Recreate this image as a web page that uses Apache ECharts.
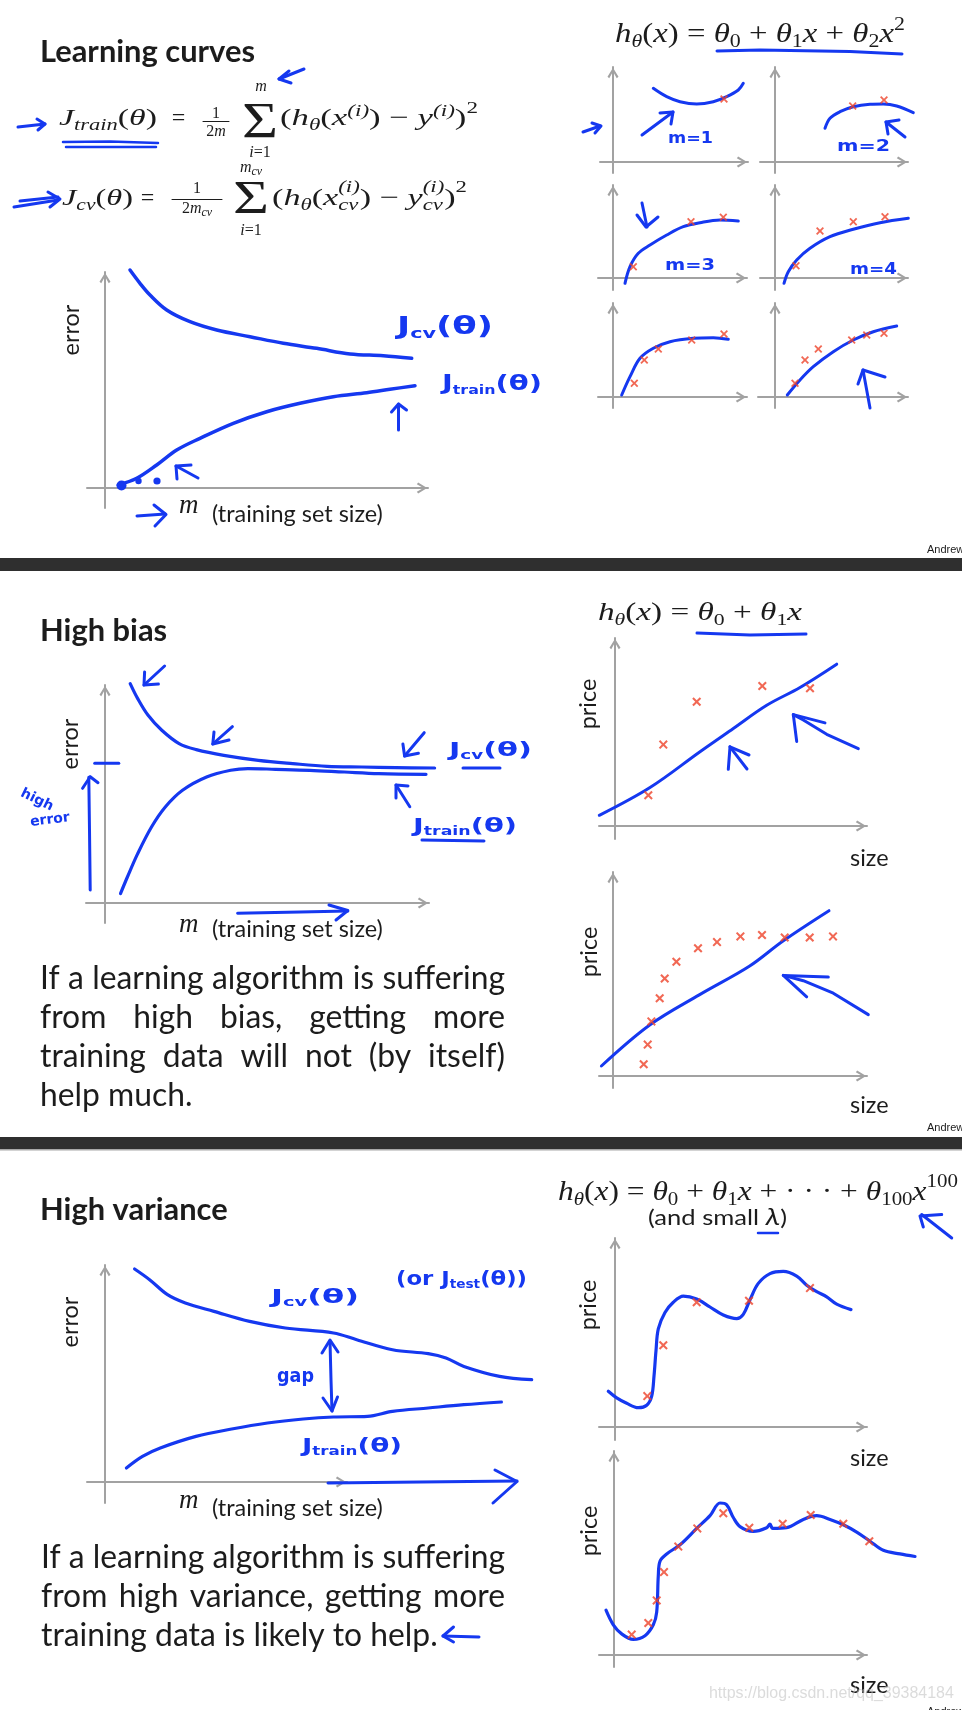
<!DOCTYPE html>
<html>
<head>
<meta charset="utf-8">
<title>Learning curves</title>
<script src="https://cdn.jsdelivr.net/npm/echarts@6/dist/echarts.min.js"></script>
<style>
html,body{margin:0;padding:0;background:#fff;}
#chart{width:962px;height:1710px;}
</style>
</head>
<body>
<div id="chart"></div>
<script>
// ================= DATA (x = m / size, y = error / price) =================
// Slide 1: learning curves
const lcJcv    = [[25,218],[35,204.7],[45,193],[61.7,178],[85,166.3],[111.7,158],[145,151.3],[178.3,144.7],[211.7,139.7],[245,134],[278.3,132.3],[306.7,129.7]];
const lcJtrain = [[13.3,3],[31.7,9.7],[51.7,23],[71.7,38],[95,49.7],[128.3,64.7],[161.7,76.3],[195,84.7],[228.3,91.3],[261.7,95.3],[285,98.7],[310,102.3]];
// quadratic fits for m = 1 .. 6
const fitM1 = [[40.3,73.7],[53.7,65.3],[67,60.3],[83.7,58],[100.3,60.3],[113.7,65.3],[125.3,72],[130.3,78.7]];
const xM1   = [[111,63]];
const fitM2 = [[50,33.7],[55,43.7],[65,50.3],[78.3,55.3],[95,57.7],[108.3,58],[121.7,56],[138.3,49.3]];
const xM2   = [[77.7,56],[109,62]];
const fitM3 = [[12,-5.3],[17,11.3],[25.3,24.7],[37,33],[53.7,43],[70.3,51.3],[87,55.3],[107,58],[125.3,57]];
const xM3   = [[20.3,11.3],[78,56.3],[110.3,60.7]];
const fitM4 = [[9,-5.3],[13.3,6.3],[21.7,18],[35,29.7],[55,41.3],[78.3,48.7],[105,55.3],[133.3,59.7]];
const xM4   = [[21,12.3],[45,47],[78.3,56.3],[110,61.3]];
const fitM5 = [[8.7,2],[17,20.3],[27,38.7],[40.3,48.7],[57,55.3],[80.3,58.7],[100.3,59.3],[115.3,57.7]];
const xM5   = [[21.3,13.7],[31.3,37],[45.3,48],[78.7,57],[111,63]];
const fitM6 = [[12.3,2],[25,17],[38.3,30.3],[58.3,45.3],[78.3,57],[98.3,65.3],[121.7,71]];
const xM6   = [[20,13.7],[30,37],[43.3,48],[76.7,57],[91.7,62],[109,63.7]];
// Slide 2: high bias
const hbJcv    = [[25.2,219.4],[32.7,204.4],[43.1,187.7],[56.8,172.7],[74.1,159.4],[91.3,153.4],[118.8,147.7],[153.3,142.7],[187.7,139.4],[222.1,136.7],[256.6,136],[291,135.4],[329.6,135]];
const hbJtrain = [[15.5,9.4],[22.4,26],[32.7,49.4],[46.5,76],[60.3,96],[77.5,112.7],[101.6,126],[125.7,132.7],[142.9,134.4],[170.5,133.7],[204.9,132.7],[239.4,131],[273.8,129.4],[321,128.7]];
const linFitA = [[-15.7,10.7],[35,38.5],[85,74.3],[118.3,97.5],[151.7,120.7],[185,138.5],[221.7,161.8]];
const linXA   = [[33.3,30.7],[48.3,81.4],[81.7,124.3],[147.3,140],[195,137.8]];
const linFitB = [[-11.6,10],[36.7,51],[86.7,81.4],[136.7,110],[170,135],[216,165.3]];
const linXB   = [[30.7,11.8],[34.7,31.4],[38.4,54.6],[46.7,77.8],[51.7,97.5],[63.4,114.3],[85,127.8],[104,133.9],[127.4,139.6],[149,141],[171.7,138.5],[196.7,138.5],[220,139.6]];
// Slide 3: high variance
const hvJcv    = [[29.6,213],[44.6,202.3],[62.5,187.3],[80.3,179],[108.9,170.6],[144.6,160.6],[180.3,154],[228.5,149],[251.7,142.3],[287.5,132.3],[323.2,128.3],[341,124],[358.9,115.6],[394.6,105.6],[426.7,102.3]];
const hvJtrain = [[21.4,14],[37.5,25.6],[55.3,34],[91,45.6],[126.7,53],[162.5,59],[198.2,63],[228.5,65],[262.5,65.6],[287.5,70.6],[323.2,74],[358.9,77.3],[396.4,80]];
const polyFitA = [[-6.7,35.7],[1.7,29.1],[11.7,23.7],[23.3,19.3],[31.7,21.8],[36.7,30.9],[39,50.9],[41,76.4],[43.3,98.2],[50,114.5],[58.3,124.7],[68.3,130.9],[81.7,128],[95,120],[108.3,112],[121.7,108.4],[128.3,112.7],[135,127.3],[143.3,143.6],[155,153.4],[168.3,155.6],[181.7,150.9],[191.7,141.8],[201.7,135.3],[211.7,130.2],[221.7,122.9],[236,117.4]];
const polyXA   = [[32.3,30.9],[48.3,81.8],[81.7,124.7],[134,126.2],[195,138.9]];
const polyFitB = [[-8,44.8],[-0.7,30.2],[7.7,21.1],[19.3,15.6],[31,19.3],[39.3,30.2],[42.7,42.9],[44.3,79.3],[46,93.8],[52.7,101.1],[66,110.2],[82.7,126.6],[96,139.3],[106,152],[112.7,150.2],[119.3,137.5],[126,128.4],[139.3,123.6],[152.7,127.3],[156,130.9],[158.7,126.6],[172.7,127.3],[189.3,135.6],[202.7,139.3],[216,135.6],[229.3,130.2],[242.7,122.9],[256,113.8],[269.3,104.7],[286,101.1],[301,98.5]];
const polyXB   = [[17.7,20.4],[34.3,32],[42.7,54.6],[50,82.9],[64.3,108.4],[83.3,126.6],[109.3,141.8],[135.3,127.3],[168.7,131.3],[196.7,140],[229.3,131.3],[255.3,113.8]];

// ================= TEXT =================
const titles = ['Learning curves', 'High bias', 'High variance'];
const yName = 'error', yNamePrice = 'price', xNamePrice = 'size';
const xNameM = 'm', xNameRest = '(training set size)';
const biasText = ['If a learning algorithm is suffering', 'from high bias, getting more', 'training data will not (by itself)', 'help much.'];
const varText  = ['If a learning algorithm is suffering', 'from high variance, getting more', 'training data is likely to help.'];
const footer = 'Andrew Ng';
const watermark = 'https://blog.csdn.net/qq_39384184';

// ================= STYLE / LAYOUT =================
const BLUE = '#1538f0', RED = '#ee4229', AXIS = '#a2a2a2', INK = '#1c1c1c';
const SANS = 'Lato, "Open Sans", "Liberation Sans", sans-serif';
const SERIF = '"Liberation Serif", "DejaVu Serif", serif';
const HAND = '"DejaVu Sans", "Liberation Sans", sans-serif';
const ARROW = 'path://M5,0 L10,8.2 L8.4,9.4 L5,3.4 L1.6,9.4 L0,8.2 Z';
const XMARK = 'path://M1.6,0 L5,3.4 L8.4,0 L10,1.6 L6.6,5 L10,8.4 L8.4,10 L5,6.6 L1.6,10 L0,8.4 L3.4,5 L0,1.6 Z';

// g = [left, top, right, bottom] of the visible axis box, o = pixel of the origin
const CHARTS = [
  {g:[87,272,428,508],   o:[105,488],  lines:[lcJcv, lcJtrain], pts:[], lw:3.5, ms:9},
  {g:[600,67,748,173],   o:[613,162],  lines:[fitM1], pts:[xM1], lw:3, ms:8},
  {g:[760,67,908,173],   o:[775,162],  lines:[fitM2], pts:[xM2], lw:3, ms:8},
  {g:[598,185,747,290],  o:[613,278],  lines:[fitM3], pts:[xM3], lw:3, ms:8},
  {g:[760,185,908,290],  o:[775,278],  lines:[fitM4], pts:[xM4], lw:3, ms:8},
  {g:[598,303,747,408],  o:[613,397],  lines:[fitM5], pts:[xM5], lw:3, ms:8},
  {g:[758,303,908,408],  o:[775,397],  lines:[fitM6], pts:[xM6], lw:3, ms:8},
  {g:[86,685,429,923],   o:[105,903],  lines:[hbJcv, hbJtrain], pts:[], lw:3.2, ms:9},
  {g:[599,638,867,839],  o:[615,826],  lines:[linFitA], pts:[linXA], lw:3, ms:9},
  {g:[599,872,867,1088], o:[613,1076], lines:[linFitB], pts:[linXB], lw:3, ms:9},
  {g:[87,1265,347,1503], o:[105,1482], lines:[hvJcv, hvJtrain], pts:[], lw:3.2, ms:9},
  {g:[599,1238,867,1440],o:[615,1427], lines:[polyFitA], pts:[polyXA], lw:3.2, ms:9},
  {g:[599,1451,867,1667],o:[614,1655], lines:[polyFitB], pts:[polyXB], lw:3.2, ms:9}
];

// ================= HELPERS =================
const mctx = document.createElement('canvas').getContext('2d');
function fnt(s, fam, it, wt) { return (it ? 'italic ' : '') + (wt ? wt + ' ' : '') + s + 'px ' + fam; }
function tw(str, font) { mctx.font = font; return mctx.measureText(str).width; }
function bOff(font, size) {
  mctx.font = font;
  mctx.textBaseline = 'alphabetic';
  const a = mctx.measureText('Hg').fontBoundingBoxAscent;
  mctx.textBaseline = 'middle';
  const b = mctx.measureText('Hg').fontBoundingBoxAscent;
  mctx.textBaseline = 'alphabetic';
  if (typeof a === 'number' && typeof b === 'number' && isFinite(a - b)) return a - b;
  return 0.32 * size;
}
const G = [];
function txt(x, base, str, font, size, color, opt) {
  opt = opt || {};
  const el = {type:'text', x:x, y:base - bOff(font, size), silent:true, z:20,
    style:{text:str, font:font, fill:color, align:opt.align || 'left', verticalAlign:'middle',
           textAlign:opt.align || 'left', textVerticalAlign:'middle'}};
  if (opt.sx) el.scaleX = opt.sx;
  if (opt.rot) el.rotation = opt.rot;
  G.push(el);
}
function ctxt(cx, cy, str, font, color, rot) {
  G.push({type:'text', x:cx, y:cy, rotation:rot || 0, silent:true, z:20,
    style:{text:str, font:font, fill:color, align:'center', verticalAlign:'middle', textAlign:'center', textVerticalAlign:'middle'}});
}
// token: [text, size, italic, dy]  or {st:[token, token]} (stacked sub/superscript)
function run(x, base, toks, o) {
  o = o || {};
  const fam = o.fam || SERIF, color = o.color || INK, wt = o.wt;
  const mk = tk => { const f = fnt(tk[1], fam, tk[2], wt); return {t:tk[0], s:tk[1], f:f, dy:tk[3] || 0, w:tw(tk[0], f)}; };
  const items = toks.map(tk => {
    if (tk.st) { const sub = tk.st.map(mk); return {st:sub, w:Math.max.apply(null, sub.map(s => s.w))}; }
    return mk(tk);
  });
  const W = items.reduce((a, b) => a + b.w, 0);
  const k = o.w ? o.w / W : 1;
  let cx = o.align === 'center' ? x - W * k / 2 : x;
  items.forEach(it => {
    const list = it.st || [it];
    list.forEach(p => txt(cx, base + p.dy, p.t, p.f, p.s, color, {sx:k}));
    cx += it.w * k;
  });
}
function hand(x, base, toks, w) { run(x, base, toks, {fam:HAND, color:BLUE, w:w, wt:'bold'}); }
function pl(points, w, color) {
  G.push({type:'polyline', silent:true, z:19, shape:{points:points},
    style:{stroke:color || BLUE, lineWidth:w || 3, fill:null, lineCap:'round', lineJoin:'round'}});
}
function dot(cx, cy, r) { G.push({type:'circle', silent:true, z:19, shape:{cx:cx, cy:cy, r:r}, style:{fill:BLUE}}); }
function para(lines, justify, x0, x1, bases, font, size) {
  lines.forEach((ln, i) => {
    const words = ln.split(' ');
    const ws = words.map(w => tw(w, font));
    const tot = ws.reduce((a, b) => a + b, 0);
    const gap = (justify[i] && words.length > 1) ? (x1 - x0 - tot) / (words.length - 1) : tw(' ', font);
    let x = x0;
    words.forEach((w, k) => { txt(x, bases[i], w, font, size, INK); x += ws[k] + gap; });
  });
}

// ================= BACKGROUND BARS =================
G.push({type:'rect', silent:true, z:1, shape:{x:0, y:558, width:962, height:13}, style:{fill:'#2f2f2f'}});
G.push({type:'rect', silent:true, z:1, shape:{x:0, y:1137, width:962, height:12}, style:{fill:'#2f2f2f'}});
G.push({type:'rect', silent:true, z:1, shape:{x:0, y:1149, width:962, height:1.5}, style:{fill:'#a8a8a8'}});

// ================= SLIDE TEXT =================
const tSize = 26 * 215 / tw(titles[0], fnt(26, SANS, false, 'bold'));
const tFont = fnt(tSize, SANS, false, 'bold');
txt(40, 62, titles[0], tFont, tSize, INK);
txt(40, 641, titles[1], tFont, tSize, INK);
txt(40, 1220, titles[2], tFont, tSize, INK);

const lSize = 20 * 171 / tw(xNameRest, fnt(20, SANS));
const lFont = fnt(lSize, SANS);
const mFont = fnt(27, SERIF, true);
[[513, 522], [932, 937], [1508, 1516]].forEach(b => {
  txt(179, b[0], xNameM, mFont, 27, INK);
  txt(212, b[1], xNameRest, lFont, lSize, INK);
});
[[71.5, 330], [70.5, 744], [70.5, 1322]].forEach(c => ctxt(c[0], c[1], yName, lFont, INK, Math.PI / 2));
[[588.5, 704], [589.5, 952], [588.5, 1305], [589.5, 1531]].forEach(c => ctxt(c[0], c[1], yNamePrice, lFont, INK, Math.PI / 2));
[865.5, 1113, 1466, 1692.5].forEach(b => txt(850, b, xNamePrice, lFont, lSize, INK));

const pSize = 30 * 464 / tw(biasText[0], fnt(30, SANS));
const pFont = fnt(pSize, SANS);
para(biasText, [true, true, true, false], 40, 505, [989, 1028, 1067, 1106], pFont, pSize);
para(varText, [true, true, false], 41, 505, [1568, 1607, 1646], pFont, pSize);

const fFont = fnt(11, '"Liberation Sans", Arial, sans-serif');
[553, 1131, 1715].forEach(b => txt(927, b, footer, fFont, 11, INK));
const wmSize = 20 * 245 / tw(watermark, fnt(20, '"Liberation Sans", Arial, sans-serif'));
txt(709, 1698, watermark, fnt(wmSize, '"Liberation Sans", Arial, sans-serif'), wmSize, 'rgba(190,190,190,0.55)');

// ================= FORMULAS =================
const I = true;
// J_train
run(59, 125, [['J',24,I],['train',16,I,5],['(',24],['θ',24,I],[')',24]], {w:98});
run(178.5, 125, [['=',24]], {align:'center'});
run(216, 118, [['1',16]], {align:'center'});
pl([[203,121.5],[229,121.5]], 1, INK);
run(216, 136, [['2',16],['m',16,I]], {align:'center'});
run(260, 137, [['Σ',51]], {align:'center', w:36});
run(261, 91, [['m',16,I]], {align:'center'});
run(260, 157, [['i',16,I],['=',16],['1',16]], {align:'center'});
run(280, 125, [['(',24],['h',24,I],['θ',16,I,5],['(',24],['x',24,I],['(i)',16,I,-9],[')',24],[' − ',24],['y',24,I],['(i)',16,I,-9],[')',24],['2',16,false,-12]], {w:198});
// J_cv
run(62, 205, [['J',24,I],['cv',16,I,5],['(',24],['θ',24,I],[')',24]], {w:71});
run(147.5, 205, [['=',24]], {align:'center'});
run(197, 193, [['1',16]], {align:'center'});
pl([[172,199.5],[222,199.5]], 1, INK);
run(197, 213, [['2',16],['m',16,I],['cv',12,I,3]], {align:'center'});
run(251, 213, [['Σ',47]], {align:'center', w:36});
run(251, 172, [['m',16,I],['cv',12,I,3]], {align:'center'});
run(251, 235, [['i',16,I],['=',16],['1',16]], {align:'center'});
run(272, 205, [['(',24],['h',24,I],['θ',16,I,5],['(',24],['x',24,I],{st:[['(i)',16,I,-13],['cv',16,I,5]]},[')',24],[' − ',24],['y',24,I],{st:[['(i)',16,I,-13],['cv',16,I,5]]},[')',24],['2',16,false,-13]], {w:195});
// hypotheses
run(615, 42, [['h',27,I],['θ',18,I,5],['(',27],['x',27,I],[')',27],[' = ',27],['θ',27,I],['0',18,false,5],[' + ',27],['θ',27,I],['1',18,false,5],['x',27,I],[' + ',27],['θ',27,I],['2',18,false,5],['x',27,I],['2',18,false,-12]], {w:290});
run(598, 620, [['h',26,I],['θ',17,I,5],['(',26],['x',26,I],[')',26],[' = ',26],['θ',26,I],['0',17,false,5],[' + ',26],['θ',26,I],['1',17,false,5],['x',26,I]], {w:204});
run(558, 1200, [['h',27,I],['θ',18,I,5],['(',27],['x',27,I],[')',27],[' = ',27],['θ',27,I],['0',18,false,5],[' + ',27],['θ',27,I],['1',18,false,5],['x',27,I],[' + · · · + ',27],['θ',27,I],['100',18,false,5],['x',27,I],['100',18,false,-13]], {w:400});
run(648, 1225, [['(and small ',21],['λ',24,I],[')',21]], {fam:SANS, w:139});

// ================= HANDWRITTEN ANNOTATIONS =================
// slide 1 formulas
pl([[18,127],[45,124]]); pl([[37,119],[45,124],[38,130]]);
pl([[63,142],[110,141.5],[158,143]], 2.5); pl([[66,147],[156,147]], 2.5);
pl([[14,207],[58,200]]); pl([[20,201],[58,197]]); pl([[48,192],[60,199],[50,207]]);
pl([[304,69],[279,79]]); pl([[289,71],[279,79],[291,83]]);
// slide 1 main chart
hand(397, 334, [['J',24],['cv',14,false,4],['(θ)',24]], 96);
hand(442, 390, [['J',22],['train',12,false,4],['(θ)',22]], 100);
pl([[398.5,430],[398.5,404]]); pl([[391.5,412],[398.5,404],[406.5,410]]);
dot(121.5, 485.5, 5); dot(138.5, 481, 3.2); dot(157, 481, 3.6);
pl([[198,478],[176,466]]); pl([[177,479],[176,466],[191,465]]);
pl([[137,516],[165,514]]); pl([[154,505],[166,514.5],[155,526]]);
// slide 1 small charts
pl([[717,51],[760,50],[850,51.5],[902,54]], 3);
pl([[583,132],[600,126]]); pl([[592,123],[601,126],[595,133]]);
pl([[642,135],[673,112]]); pl([[660,113],[673,112],[671,124]]);
hand(668, 143, [['m=1',15]], 45);
hand(837, 151, [['m=2',15]], 53);
pl([[905,137],[886,122]]); pl([[899,120],[886,122],[888,134]]);
pl([[642,203],[647,227]]); pl([[637,215],[646,227],[658,217]]);
hand(665, 270, [['m=3',15]], 50);
hand(850, 274, [['m=4',15]], 47);
pl([[870,408],[863,370]]); pl([[858,384],[863,370],[885,377]]);
// slide 2
pl([[164.6,666],[144,685]]); pl([[144.6,672],[144,685],[158.4,684]]);
pl([[232.4,726.7],[212.8,744]]); pl([[214,732],[212.8,744],[229,740]]);
pl([[424.2,732.7],[404.6,756]]); pl([[402.9,744],[404.6,756],[418.4,753.3]]);
pl([[409.8,806.7],[396,785]]); pl([[396,798],[396,785],[408,786]]);
hand(449, 756, [['J',20],['cv',12,false,3],['(θ)',20]], 83);
pl([[463,768],[500,768]]);
hand(413, 832, [['J',20],['train',12,false,3],['(θ)',20]], 104);
pl([[422,840],[484,841]]);
pl([[94.7,763.3],[118.8,763.3]]);
pl([[90.2,890],[89.5,830],[88.8,777.3]]); pl([[82.6,788.3],[90.2,776.7],[98,782.7]]);
ctxt(37, 800, 'high', fnt(14, HAND, false, 'bold'), BLUE, -0.45);
ctxt(50, 820, 'error', fnt(14, HAND, false, 'bold'), BLUE, 0.12);
pl([[237.6,913.3],[300,912],[347.8,911]]); pl([[329,905],[347.8,910.5],[336,920]]);
pl([[697,633],[750,635],[806,634]]);
pl([[728.3,769.3],[730,746.8],[749,755]]); pl([[747,769],[730,746.8]]);
pl([[858.3,748.6],[826.7,734.3],[803.3,720],[793.3,714.6]]); pl([[796.7,741.4],[793.3,714.6],[825,722.9]]);
pl([[868.3,1014.6],[833.3,993.2],[803.3,980.7],[783.3,975.4]]); pl([[806.7,996.8],[783.3,975.4],[828.3,977.1]]);
// slide 3
hand(271, 1303, [['J',20],['cv',12,false,3],['(θ)',20]], 88);
hand(396, 1285, [['(or ',20],['J',20],['test',12,false,3],['(θ))',20]], 131);
hand(277, 1382, [['gap',20]], 37);
pl([[330,1341],[331,1380],[332,1411]]); pl([[322,1353],[330,1340],[338,1352]]); pl([[323,1398],[332,1411],[337.5,1397]]);
hand(302, 1452, [['J',20],['train',12,false,3],['(θ)',20]], 100);
pl([[328,1483],[420,1482],[517,1481]]); pl([[495,1470],[517,1481.5],[493,1503]]);
pl([[443,1636],[479,1637]]); pl([[453.5,1627],[443,1636],[453.5,1642]]);
pl([[951.7,1238],[921.7,1214.5]]); pl([[923.3,1227],[920,1216],[941.7,1214.5]]);
pl([[758,1233],[778,1233]], 2.5);

// ================= CHART OPTION =================
// Each chart: one grid with the visible axes (the slide's arrows) and one hidden grid with the
// same origin and scale but a wider extent, so hand-drawn curves may run past the axis arrows.
const grids = [], xAxes = [], yAxes = [], series = [];
const PAD = [120, 70, 200, 40]; // extra room of the hidden data grid: left, top, right, bottom
CHARTS.forEach(c => {
  const [l, t, r, b] = c.g, [ox, oy] = c.o;
  // visible frame
  const gi = grids.length;
  grids.push({left:l, top:t, width:r - l, height:b - t, containLabel:false, outerBoundsMode:'none'});
  const line = {show:true, onZero:true, symbol:['none', ARROW], symbolSize:[11, 12], symbolOffset:[0, -6],
                lineStyle:{color:AXIS, width:2}};
  const common = {type:'value', gridIndex:gi, axisLine:line, axisTick:{show:false}, axisLabel:{show:false},
                  splitLine:{show:false}, z:2};
  xAxes.push(Object.assign({min:l - ox, max:r - ox}, common));
  yAxes.push(Object.assign({min:oy - b, max:oy - t}, common));
  // hidden data grid
  const L = Math.max(0, l - PAD[0]), T = Math.max(0, t - PAD[1]);
  const R = Math.min(962, r + PAD[2]), B = Math.min(1710, b + PAD[3]);
  const di = grids.length;
  grids.push({left:L, top:T, width:R - L, height:B - T, containLabel:false, outerBoundsMode:'none', show:false});
  xAxes.push({type:'value', gridIndex:di, show:false, min:L - ox, max:R - ox});
  yAxes.push({type:'value', gridIndex:di, show:false, min:oy - B, max:oy - T});
  c.lines.forEach(d => series.push({type:'line', xAxisIndex:di, yAxisIndex:di, data:d, smooth:0.35,
    symbol:'none', showSymbol:false, clip:false, silent:true, z:4,
    lineStyle:{color:BLUE, width:c.lw, cap:'round', join:'round'}, itemStyle:{color:BLUE}, emphasis:{disabled:true}}));
  c.pts.forEach(d => series.push({type:'scatter', xAxisIndex:di, yAxisIndex:di, data:d, symbol:XMARK,
    symbolSize:c.ms, clip:false, silent:true, z:5, itemStyle:{color:RED}, emphasis:{disabled:true}}));
});

const chart = echarts.init(document.getElementById('chart'), null, {renderer:'canvas', width:962, height:1710});
chart.setOption({
  backgroundColor:'#ffffff',
  animation:false,
  grid:grids, xAxis:xAxes, yAxis:yAxes, series:series,
  graphic:{elements:G}
});
</script>
</body>
</html>
